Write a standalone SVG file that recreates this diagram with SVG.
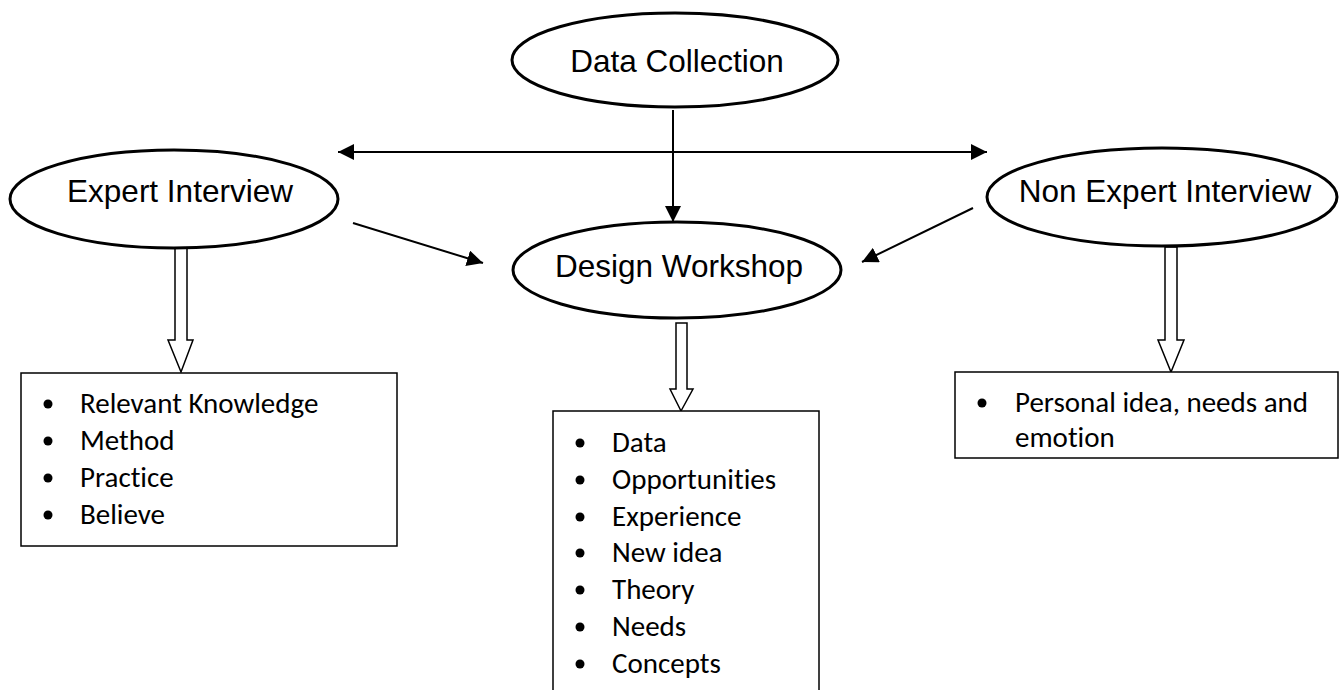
<svg xmlns="http://www.w3.org/2000/svg" width="1343" height="690" viewBox="0 0 1343 690">
<style>
.oval{fill:#fff;stroke:#000;stroke-width:3}
.otext{font-family:"Liberation Sans",Arial,sans-serif;font-size:31.5px;fill:#000;text-anchor:middle}
.box{fill:#fff;stroke:#000;stroke-width:1.5}
.ltext{font-family:Carlito,Lato,"Open Sans",sans-serif;font-size:29px;fill:#000;font-variant-ligatures:none}
.conn{stroke:#000;stroke-width:2;fill:none}
.block{fill:#fff;stroke:#000;stroke-width:1.5;stroke-linejoin:miter}
</style>
<defs>
<marker id="ah" viewBox="0 0 16 16" refX="16" refY="8" markerWidth="16" markerHeight="16" markerUnits="userSpaceOnUse" orient="auto-start-reverse">
<path d="M0,0 L16,8 L0,16 Z" fill="#000"/>
</marker>
</defs>
<rect width="1343" height="690" fill="#fff"/>
<g id="connectors">
<line class="conn" x1="673" y1="110" x2="673" y2="222" marker-end="url(#ah)"/>
<line class="conn" x1="338" y1="152" x2="987" y2="152" marker-start="url(#ah)" marker-end="url(#ah)"/>
<line class="conn" x1="353" y1="223" x2="483" y2="263" marker-end="url(#ah)"/>
<line class="conn" x1="973" y1="208" x2="862" y2="262" marker-end="url(#ah)"/>
<path class="block" d="M175,245 L187,245 L187,340 L193,340 L181,372 L168,340 L175,340 Z"/>
<path class="block" d="M676,323 L687,323 L687,389 L693,389 L681,411 L670,389 L676,389 Z"/>
<path class="block" d="M1165,247 L1177,247 L1177,340 L1184,340 L1171,372 L1158,340 L1165,340 Z"/>
</g>
<g id="data-collection">
<ellipse class="oval" cx="675" cy="60" rx="163" ry="47"/>
<text class="otext" x="677" y="72">Data Collection</text>
</g>
<g id="expert-interview">
<ellipse class="oval" cx="174" cy="199" rx="164" ry="49"/>
<text class="otext" x="180" y="202">Expert Interview</text>
</g>
<g id="design-workshop">
<ellipse class="oval" cx="677" cy="270" rx="164" ry="48"/>
<text class="otext" x="679" y="277">Design Workshop</text>
</g>
<g id="non-expert-interview">
<ellipse class="oval" cx="1162" cy="197" rx="175" ry="49"/>
<text class="otext" x="1165" y="202">Non Expert Interview</text>
</g>
<g id="expert-list">
<rect class="box" x="21" y="373" width="376" height="173"/>
<g class="ltext">
<circle cx="48" cy="404" r="4.5"/><text x="80" y="413">Relevant Knowledge</text>
<circle cx="48" cy="441" r="4.5"/><text x="80" y="450">Method</text>
<circle cx="48" cy="478" r="4.5"/><text x="80" y="487">Practice</text>
<circle cx="48" cy="515" r="4.5"/><text x="80" y="524">Believe</text>
</g>
</g>
<g id="workshop-list">
<rect class="box" x="553" y="411" width="266" height="290"/>
<g class="ltext">
<circle cx="580" cy="443" r="4.5"/><text x="612" y="452">Data</text>
<circle cx="580" cy="480" r="4.5"/><text x="612" y="489">Opportunities</text>
<circle cx="580" cy="517" r="4.5"/><text x="612" y="526">Experience</text>
<circle cx="580" cy="553" r="4.5"/><text x="612" y="562">New idea</text>
<circle cx="580" cy="590" r="4.5"/><text x="612" y="599">Theory</text>
<circle cx="580" cy="627" r="4.5"/><text x="612" y="636">Needs</text>
<circle cx="580" cy="664" r="4.5"/><text x="612" y="673">Concepts</text>
</g>
</g>
<g id="non-expert-list">
<rect class="box" x="955" y="372" width="383" height="86"/>
<g class="ltext">
<circle cx="982" cy="403" r="4.5"/><text x="1015" y="412">Personal idea, needs and</text>
<text x="1015" y="447">emotion</text>
</g>
</g>
</svg>
